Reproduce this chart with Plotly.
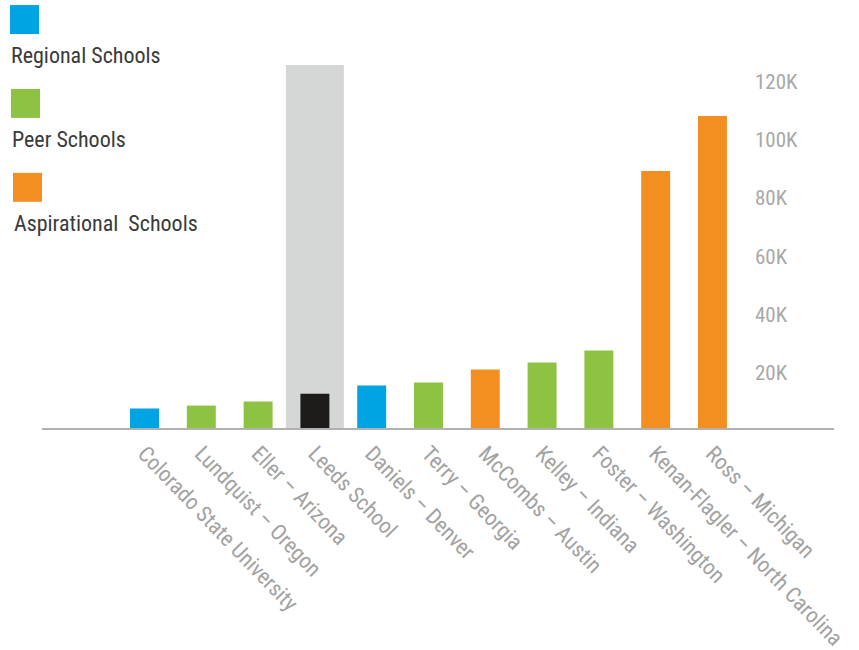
import plotly.graph_objects as go

# ---- data ----
schools = ["Colorado State University", "Lundquist – Oregon", "Eller – Arizona", "Leeds School",
           "Daniels – Denver", "Terry – Georgia", "McCombs – Austin", "Kelley – Indiana",
           "Foster – Washington", "Kenan-Flagler – North Carolina", "Ross – Michigan"]
values = [6700, 7700, 9100, 11800, 14600, 15600, 20100, 22500, 26600, 88300, 107200]
groups = ["Regional", "Peer", "Peer", "Leeds", "Regional", "Peer", "Aspirational", "Peer",
          "Peer", "Aspirational", "Aspirational"]
highlight_school = ["Leeds School"]
highlight_value = [124700]
legend_labels = ["Regional Schools", "Peer Schools", "Aspirational  Schools"]
legend_groups = ["Regional", "Peer", "Aspirational"]
y_tickvals = [20000, 40000, 60000, 80000, 100000, 120000]
y_ticktext = ["20K", "40K", "60K", "80K", "100K", "120K"]

colors = {"Regional": "#00A4E2", "Peer": "#8DC243", "Aspirational": "#F38E21", "Leeds": "#1E1C1A"}
FONT = "Liberation Sans Narrow, Roboto Condensed, DejaVu Sans Condensed, sans-serif"

W, H = 859, 650
ML, MR, MT, MB = 42, 25, 40, 221.5
plot_w = W - ML - MR
plot_h = H - MT - MB


def px_x(x):
    return (x - ML) / plot_w


def px_y(y):
    return (H - MB - y) / plot_h


fig = go.Figure()
fig.add_trace(go.Bar(x=highlight_school, y=highlight_value, width=1.02,
                     marker=dict(color="#D5D6D6", line=dict(width=0)),
                     showlegend=False, hoverinfo="skip"))
fig.add_trace(go.Bar(x=schools, y=values, width=0.51,
                     marker=dict(color=[colors[g] for g in groups], line=dict(width=0)),
                     showlegend=False))

fig.update_layout(
    width=W, height=H, barmode="overlay",
    margin=dict(l=ML, r=MR, t=MT, b=MB, pad=0, autoexpand=False),
    paper_bgcolor="white", plot_bgcolor="white",
    font=dict(family=FONT),
    xaxis=dict(type="category", categoryorder="array", categoryarray=schools,
               range=[-1.805, 12.14], showgrid=False, zeroline=False, automargin=False,
               showline=True, linecolor="#B1B1B1", linewidth=2,
               ticks="", tickangle=46, ticklabelstandoff=2,
               tickfont=dict(size=22, color="#A2A2A2", family=FONT)),
    yaxis=dict(range=[0, plot_h / 2.915 * 1000], showgrid=False, zeroline=False,
               automargin=False,
               showline=False, side="right", anchor="free", position=px_x(754),
               tickvals=y_tickvals, ticktext=y_ticktext, ticks="", ticklabelshift=3,
               tickfont=dict(size=21, color="#A8A8A8", family=FONT)),
)

sq = [(10, 5), (11, 89), (13, 173)]
txt_y = [55.5, 139.5, 223.5]
for (sx, sy), ty, lab, g in zip(sq, txt_y, legend_labels, legend_groups):
    fig.add_shape(type="rect", xref="paper", yref="paper",
                  x0=px_x(sx), x1=px_x(sx + 29), y0=px_y(sy), y1=px_y(sy + 29),
                  fillcolor=colors[g], line=dict(width=0))
    fig.add_annotation(xref="paper", yref="paper", x=px_x(sx - 1.5), y=px_y(ty),
                       xanchor="left", yanchor="middle", showarrow=False, text=lab,
                       font=dict(size=22, color="#3A3A3A", family=FONT))

fig.write_html("out.html")
